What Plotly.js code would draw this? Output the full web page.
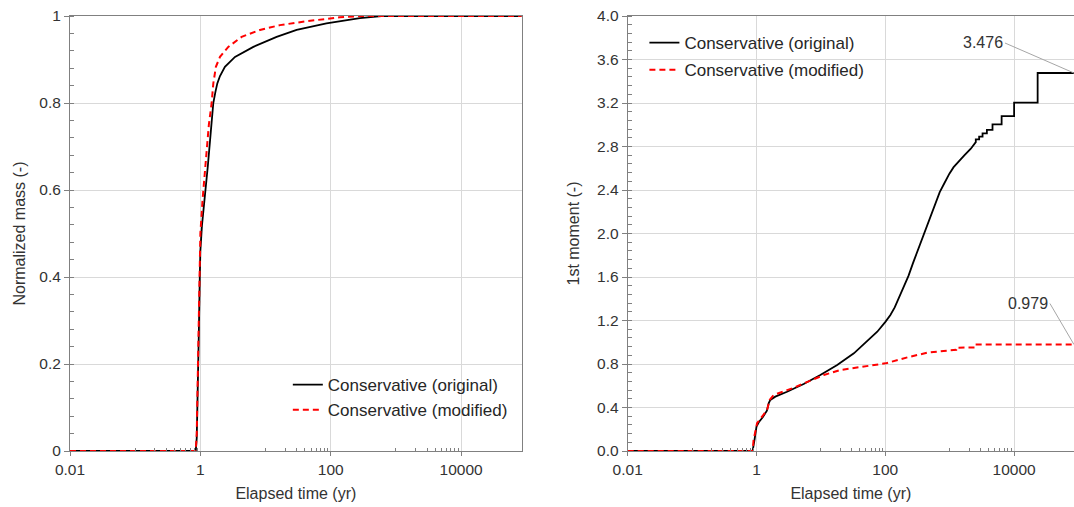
<!DOCTYPE html>
<html>
<head>
<meta charset="utf-8">
<script src="https://cdn.plot.ly/plotly-3.0.1.min.js"></script>
<style>html,body{margin:0;padding:0;background:#fff;}#chart{width:1074px;height:507px;}</style>
</head>
<body>
<div id="chart"></div>
<script>
// ---- Data ----
// Left panel: normalized mass vs elapsed time (yr)
const timeOrigMass = [0.01, 0.85, 0.88, 0.92, 0.95, 0.98, 1.0, 1.06, 1.13, 1.18, 1.3, 1.45, 1.58, 1.7, 1.82, 2.0, 2.38, 3.4, 6.5, 14.8, 30, 86, 280, 600, 85000];
const massOrig     = [0, 0, 0.03, 0.15, 0.28, 0.40, 0.46, 0.52, 0.56, 0.58, 0.654, 0.736, 0.80, 0.825, 0.845, 0.862, 0.883, 0.906, 0.929, 0.952, 0.968, 0.983, 0.995, 1.0, 1.0];
const timeModMass  = [0.01, 0.85, 0.88, 0.91, 0.94, 0.97, 1.0, 1.08, 1.2, 1.35, 1.49, 1.58, 1.73, 2.0, 2.68, 4.3, 8.2, 16.6, 43, 138, 300, 85000];
const massMod      = [0, 0, 0.04, 0.15, 0.30, 0.42, 0.50, 0.577, 0.66, 0.75, 0.80, 0.845, 0.883, 0.906, 0.929, 0.952, 0.968, 0.979, 0.988, 0.997, 1.0, 1.0];

// Right panel: 1st moment vs elapsed time (yr)
const timeOrigMom = [0.01, 0.87, 0.93, 1.0, 1.1, 1.25, 1.45, 1.55, 1.64, 1.96, 2.98, 5.4, 9.8, 17.9, 32.5, 52, 75, 101, 120, 140, 170, 200, 229, 270, 330, 390, 447, 520, 606, 700, 822, 900, 989, 1150, 1425, 1700, 2127, 2541, 2541, 2866, 2866, 3236, 3236, 3776, 3776, 4620, 4620, 6400, 6400, 10000, 10000, 23200, 23200, 85000];
const momOrig     = [0, 0, 0.10, 0.224, 0.27, 0.31, 0.37, 0.44, 0.47, 0.50, 0.545, 0.616, 0.699, 0.791, 0.898, 1.005, 1.097, 1.19, 1.25, 1.32, 1.43, 1.52, 1.61, 1.73, 1.87, 1.99, 2.08, 2.19, 2.29, 2.38, 2.46, 2.51, 2.55, 2.61, 2.673, 2.72, 2.78, 2.84, 2.866, 2.866, 2.89, 2.89, 2.921, 2.921, 2.952, 2.952, 3.004, 3.004, 3.08, 3.08, 3.203, 3.203, 3.476, 3.476];
const timeModMom  = [0.01, 0.87, 0.9, 1.02, 1.22, 1.46, 1.6, 1.85, 3.57, 6.1, 11.1, 20.1, 46.5, 101, 220, 450, 1000, 1260, 1260, 2620, 2620, 85000];
const momMod      = [0, 0, 0.10, 0.255, 0.316, 0.377, 0.47, 0.515, 0.576, 0.637, 0.699, 0.745, 0.775, 0.806, 0.861, 0.904, 0.925, 0.93, 0.95, 0.953, 0.979, 0.979];

const seriesNames = ['Conservative (original)', 'Conservative (modified)'];
const xTickVals  = [0.01, 1, 100, 10000];
const xTickText  = ['0.01', '1', '100', '10000'];
const xMinorVals = [0.1, 0.2, 0.3, 0.4, 0.5, 0.6, 0.7, 0.8, 0.9, 10, 20, 30, 40, 50, 60, 70, 80, 90, 1000, 2000, 3000, 4000, 5000, 6000, 7000, 8000, 9000];
const finalOrig = '3.476';
const finalMod  = '0.979';

// ---- Styling ----
const FONT = 'Liberation Sans, Arial, sans-serif';
const TXT = '#333333';
const AX = '#808080';
const GRID = '#d9d9d9';
const xRange = [-2, 4.93];

function xAxis(domain, anchor) {
  return {
    type: 'log', domain: domain, anchor: anchor, range: xRange,
    tickmode: 'array', tickvals: xTickVals, ticktext: xTickText,
    ticks: 'outside', ticklen: 4, tickcolor: AX, tickwidth: 1,
    minor: {tickmode: 'array', tickvals: xMinorVals, ticks: 'inside', ticklen: 3, tickcolor: AX, showgrid: false},
    showline: true, linecolor: AX, linewidth: 1, mirror: true,
    showgrid: true, gridcolor: GRID, gridwidth: 1, zeroline: false,
    tickfont: {family: FONT, size: 15.5, color: TXT},
    title: {text: 'Elapsed time (yr)', font: {family: FONT, size: 16, color: TXT}, standoff: 11},
    automargin: false, fixedrange: true
  };
}
function yAxis(anchor, range, dtick, minorDtick, fmt, title, standoff) {
  return {
    domain: [0, 1], anchor: anchor, range: range,
    tick0: 0, dtick: dtick, tickformat: fmt,
    ticks: 'outside', ticklen: 5, tickcolor: AX, tickwidth: 1,
    minor: {tick0: 0, dtick: minorDtick, ticks: 'inside', ticklen: 4, tickcolor: AX, showgrid: false},
    showline: true, linecolor: AX, linewidth: 1, mirror: true,
    showgrid: true, gridcolor: GRID, gridwidth: 1, zeroline: false,
    tickfont: {family: FONT, size: 15.5, color: TXT},
    title: {text: title, font: {family: FONT, size: 16, color: TXT}, standoff: standoff},
    automargin: false, fixedrange: true
  };
}

const blackLine = {color: '#000000', width: 1.8};
const redLine = {color: '#ff0000', width: 2, dash: '6px,4px'};

const traces = [
  {x: timeOrigMass, y: massOrig, xaxis: 'x', yaxis: 'y', mode: 'lines', name: seriesNames[0], line: blackLine, legend: 'legend', legendgroup: 'a'},
  {x: timeModMass, y: massMod, xaxis: 'x', yaxis: 'y', mode: 'lines', name: seriesNames[1], line: redLine, legend: 'legend', legendgroup: 'b'},
  {x: timeOrigMom, y: momOrig, xaxis: 'x2', yaxis: 'y2', mode: 'lines', name: seriesNames[0], line: blackLine, legend: 'legend2', legendgroup: 'c'},
  {x: timeModMom, y: momMod, xaxis: 'x2', yaxis: 'y2', mode: 'lines', name: seriesNames[1], line: redLine, legend: 'legend2', legendgroup: 'd'}
];

const legendStyle = {
  font: {family: FONT, size: 17, color: '#262626'},
  bgcolor: 'rgba(255,255,255,0)', borderwidth: 0,
  xanchor: 'left', yanchor: 'top', traceorder: 'grouped', tracegroupgap: 0,
  itemclick: false, itemdoubleclick: false
};

const lastOrig = timeOrigMom[timeOrigMom.length - 1];
const lastMod = timeModMom[timeModMom.length - 1];

const layout = {
  width: 1074, height: 507,
  margin: {l: 0, r: 0, t: 16, b: 56, pad: 0},
  paper_bgcolor: '#ffffff', plot_bgcolor: '#ffffff',
  showlegend: true,
  xaxis: xAxis([70 / 1074, 521.7 / 1074], 'y'),
  yaxis: yAxis('x', [0, 1], 0.2, 0.04, '', 'Normalized mass (-)', 9),
  xaxis2: xAxis([627.7 / 1074, 1], 'y2'),
  yaxis2: yAxis('x2', [0, 4], 0.4, 0.08, '.1f', '1st moment (-)', 13),
  legend: Object.assign({}, legendStyle, {x: 0.268, y: 0.193}),
  legend2: Object.assign({}, legendStyle, {x: 0.600, y: 0.979, tracegroupgap: 2}),
  annotations: [
    {xref: 'x2', yref: 'y2', x: Math.log10(lastOrig), y: momOrig[momOrig.length - 1], text: finalOrig,
     showarrow: true, arrowhead: 0, arrowwidth: 1, arrowcolor: '#a6a6a6', ax: -69, ay: -30,
     xanchor: 'right', yanchor: 'middle', font: {family: FONT, size: 16, color: TXT}},
    {xref: 'x2', yref: 'y2', x: Math.log10(lastMod), y: momMod[momMod.length - 1], text: finalMod,
     showarrow: true, arrowhead: 0, arrowwidth: 1, arrowcolor: '#a6a6a6', ax: -24, ay: -41,
     xanchor: 'right', yanchor: 'middle', font: {family: FONT, size: 16, color: TXT}}
  ]
};

Plotly.newPlot('chart', traces, layout, {staticPlot: true, displayModeBar: false});
</script>
</body>
</html>
